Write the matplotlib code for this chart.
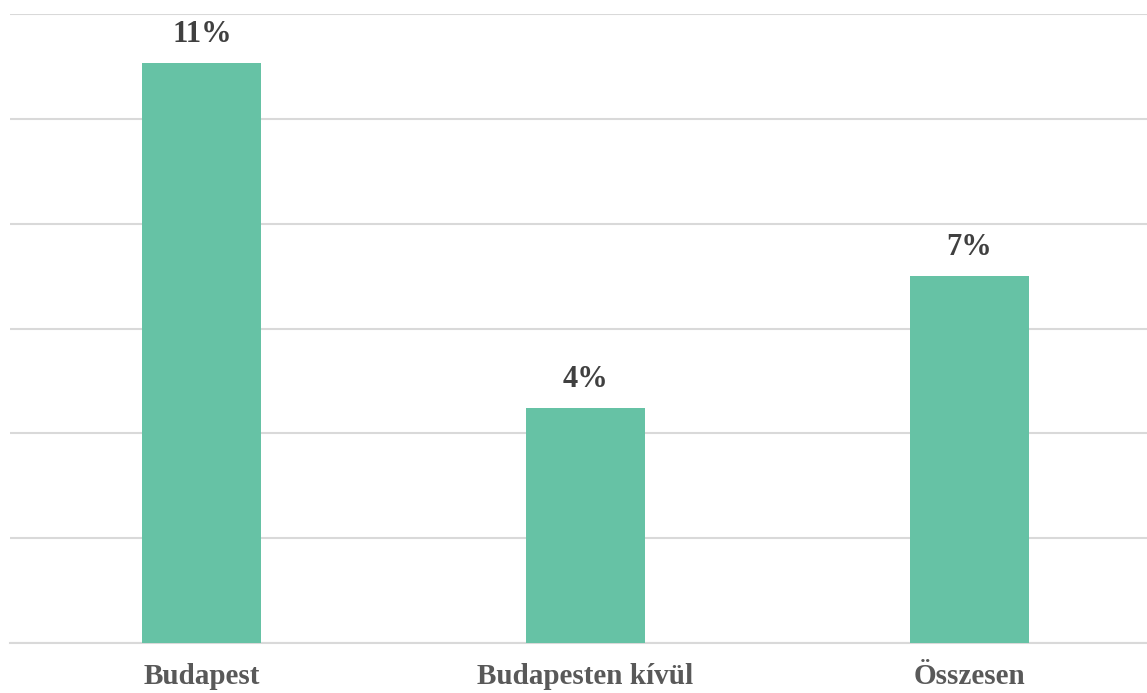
import matplotlib.pyplot as plt

# adatok
kategoriak = ['Budapest', 'Budapesten kívül', 'Összesen']
ertekek = [11.07, 4.48, 7.0]
cimkek = ['11%', '4%', '7%']

plt.rcParams['font.family'] = ['Liberation Serif', 'DejaVu Serif']

fig = plt.figure(figsize=(11.47, 6.93), dpi=100)
ax = fig.add_axes([10 / 1147, 50 / 693, 1151 / 1147, 629 / 693])

x = range(len(kategoriak))
bars = ax.bar(x, ertekek, width=0.31, color='#66C2A5', zorder=3)

# ertekcimkek az oszlopok folott
for b, c in zip(bars, cimkek):
    ax.annotate(c, (b.get_x() + b.get_width() / 2, b.get_height()),
                xytext=(0, 10), textcoords='offset points',
                ha='center', va='bottom', fontsize=22, fontweight='bold',
                color='#404040')

ax.set_xlim(-0.5, 2.5)
ax.set_ylim(0, 12)
ax.set_yticks(range(0, 13, 2))
ax.yaxis.grid(True, color='#d9d9d9', linewidth=1.5, zorder=0)
ax.tick_params(axis='y', left=False, labelleft=False)
ax.tick_params(axis='x', bottom=False, pad=11)
ax.set_xticks(list(x))
ax.set_xticklabels(kategoriak, fontsize=21, fontweight='bold', color='#595959')
for s in ['top', 'right', 'left']:
    ax.spines[s].set_visible(False)
ax.spines['bottom'].set_color('#d9d9d9')
ax.spines['bottom'].set_linewidth(1.5)

fig.savefig('out.png', dpi=100)
